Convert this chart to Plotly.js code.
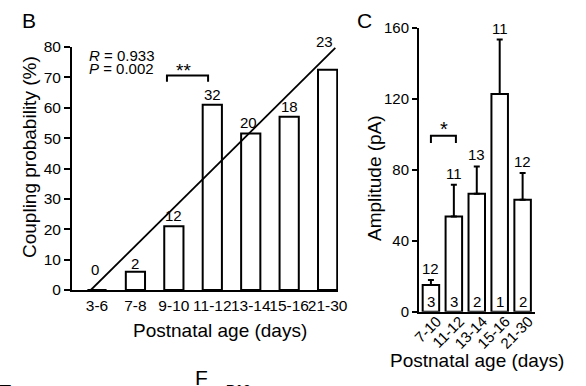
<!DOCTYPE html>
<html>
<head>
<meta charset="utf-8">
<script src="https://cdn.plot.ly/plotly-3.0.1.min.js"></script>
<style>html,body{margin:0;padding:0;background:#fff}#chart{width:586px;height:386px}</style>
</head>
<body>
<div id="chart"></div>
<script>
// ---- Panel B data ----
const ageB = ['3-6', '7-8', '9-10', '11-12', '13-14', '15-16', '21-30'];
const couplingPct = [0, 6, 21, 61, 51.5, 57, 72.5];
const nCellsB = [0, 2, 12, 32, 20, 18, 23];
const fitX = [-0.16, 6.2];
const fitY = [0, 79.7];
const statR = '0.933';
const statP = '0.002';
const sigB = {x: [1.82, 1.82, 2.89, 2.89], y: [68.6, 70.6, 70.6, 68.6], label: '**', labelX: 2.24};

// ---- Panel C data ----
const ageC = ['7-10', '11-12', '13-14', '15-16', '21-30'];
const amplitude = [15.1, 53.7, 66.5, 122.8, 63.1];
const ampSEM = [2.8, 17.9, 15.4, 30.7, 15.1];
const nPairsC = [12, 11, 13, 11, 12];
const nAnimalsC = [3, 3, 2, 1, 2];
const sigC = {x: [0, 0, 1.09, 1.09], y: [95.2, 99.3, 99.3, 95.2], label: '*', labelX: 0.57};

const W = 586, H = 386;
const px = v => v / W;
const py = v => 1 - v / H;
const FONT = 'Liberation Sans, Arial, Helvetica, sans-serif';
const black = '#000';

const idxB = ageB.map((_, i) => i);
const idxC = ageC.map((_, i) => i);

const traces = [
  {type: 'bar', x: idxB, y: couplingPct, xaxis: 'x', yaxis: 'y', width: 0.5,
   marker: {color: '#fff', line: {color: black, width: 2}}, hoverinfo: 'none'},
  {type: 'scatter', mode: 'lines', x: fitX, y: fitY, xaxis: 'x', yaxis: 'y',
   line: {color: black, width: 1.8}, hoverinfo: 'none'},
  {type: 'scatter', mode: 'lines', x: sigB.x, y: sigB.y, xaxis: 'x', yaxis: 'y',
   line: {color: black, width: 2}, hoverinfo: 'none'},
  {type: 'bar', x: idxC, y: amplitude, xaxis: 'x2', yaxis: 'y2', width: 0.72,
   marker: {color: '#fff', line: {color: black, width: 2}},
   error_y: {type: 'data', symmetric: false, array: ampSEM, arrayminus: ampSEM.map(() => 0),
             color: black, thickness: 2, width: 3},
   hoverinfo: 'none'},
  {type: 'scatter', mode: 'lines', x: sigC.x, y: sigC.y, xaxis: 'x2', yaxis: 'y2',
   line: {color: black, width: 2}, hoverinfo: 'none'}
];

const annotations = [];
function ann(o) { annotations.push(Object.assign({showarrow: false, font: {family: FONT, size: 15, color: black}}, o)); }

// counts above panel B bars
const shiftB = [10, -2, 0, 0, 1, 0, 18];
const xshiftB = [-2, 0, 0, 0, -2, 0, -3];
nCellsB.forEach((n, i) => ann({xref: 'x', yref: 'y', x: i, y: couplingPct[i], text: String(n),
  yanchor: 'bottom', yshift: shiftB[i], xshift: xshiftB[i]}));
// stats
ann({xref: 'paper', yref: 'paper', x: px(87), y: py(55.5), xanchor: 'left', yanchor: 'middle',
     text: '<i>R</i> = ' + statR});
ann({xref: 'paper', yref: 'paper', x: px(87), y: py(69), xanchor: 'left', yanchor: 'middle',
     text: '<i>P</i> = ' + statP});
ann({xref: 'x', yref: 'y', x: sigB.labelX, y: sigB.y[1], text: sigB.label,
     yanchor: 'bottom', yshift: -7, font: {family: FONT, size: 19, color: black}});

// panel C counts
nPairsC.forEach((n, i) => ann({xref: 'x2', yref: 'y2', x: i, y: amplitude[i] + ampSEM[i], text: String(n),
  yanchor: 'bottom', yshift: 1}));
nAnimalsC.forEach((n, i) => ann({xref: 'x2', yref: 'y2', x: i, y: 0, text: String(n),
  yanchor: 'middle', yshift: 10}));
ann({xref: 'x2', yref: 'y2', x: sigC.labelX, y: sigC.y[1], text: sigC.label, yanchor: 'bottom', yshift: -6,
     font: {family: FONT, size: 20, color: black}});

// axis titles
const TF = {family: FONT, size: 19, color: black};
ann({xref: 'paper', yref: 'paper', x: px(29), y: py(157), text: 'Coupling probability (%)', textangle: -90,
     xanchor: 'center', yanchor: 'middle', font: TF});
ann({xref: 'paper', yref: 'paper', x: px(220), y: py(330), text: 'Postnatal age (days)',
     xanchor: 'center', yanchor: 'middle', font: TF});
ann({xref: 'paper', yref: 'paper', x: px(374), y: py(178), text: 'Amplitude (pA)', textangle: -90,
     xanchor: 'center', yanchor: 'middle', font: TF});
ann({xref: 'paper', yref: 'paper', x: px(477), y: py(360), text: 'Postnatal age (days)',
     xanchor: 'center', yanchor: 'middle', font: TF});

// panel letters
const LF = {family: FONT, size: 21, color: black};
ann({xref: 'paper', yref: 'paper', x: px(29), y: py(21), text: 'B', xanchor: 'center', yanchor: 'middle', font: LF});
ann({xref: 'paper', yref: 'paper', x: px(364), y: py(21), text: 'C', xanchor: 'center', yanchor: 'middle', font: LF});
// partially visible letters of the next row
ann({xref: 'paper', yref: 'paper', x: px(201), y: py(377), text: 'F', xanchor: 'center', yanchor: 'middle', font: LF});
ann({xref: 'paper', yref: 'paper', x: px(5), y: py(391), text: 'E', xanchor: 'center', yanchor: 'middle', font: LF});
ann({xref: 'paper', yref: 'paper', x: px(238), y: py(390), text: '<b>P10</b>', xanchor: 'center', yanchor: 'middle',
     font: {family: FONT, size: 14, color: black}});

const axBase = {showgrid: false, zeroline: false, showline: true, linewidth: 2, linecolor: black,
                tickcolor: black, fixedrange: true};

const layout = {
  width: W, height: H, margin: {l: 0, r: 0, t: 0, b: 0},
  paper_bgcolor: '#fff', plot_bgcolor: 'rgba(0,0,0,0)', showlegend: false,
  font: {family: FONT, color: black},
  xaxis: Object.assign({}, axBase, {domain: [px(72), px(338)], range: [-0.65, 6.27], anchor: 'y',
    tickvals: idxB, ticktext: ageB, ticks: '', tickfont: {family: FONT, size: 15.5, color: black}, tickangle: 0}),
  yaxis: Object.assign({}, axBase, {domain: [py(290), py(47)], range: [0, 80], anchor: 'x',
    tickvals: [0, 10, 20, 30, 40, 50, 60, 70, 80], ticks: 'outside', ticklen: 6, tickwidth: 2,
    tickfont: {family: FONT, size: 15.5, color: black}}),
  xaxis2: Object.assign({}, axBase, {domain: [px(419), px(535)], range: [-0.52, 4.54], anchor: 'y2',
    tickvals: idxC, ticktext: ageC, ticks: '', tickangle: -45, ticklabelstandoff: -7, ticklabelshift: 6,
    tickfont: {family: FONT, size: 15, color: black}}),
  yaxis2: Object.assign({}, axBase, {domain: [py(311.7), py(28)], range: [0, 160], anchor: 'x2',
    tickvals: [0, 40, 80, 120, 160], ticks: 'outside', ticklen: 5, tickwidth: 2,
    tickfont: {family: FONT, size: 15, color: black}}),
  annotations: annotations
};

Plotly.newPlot('chart', traces, layout, {displayModeBar: false, staticPlot: true});
</script>
</body>
</html>
